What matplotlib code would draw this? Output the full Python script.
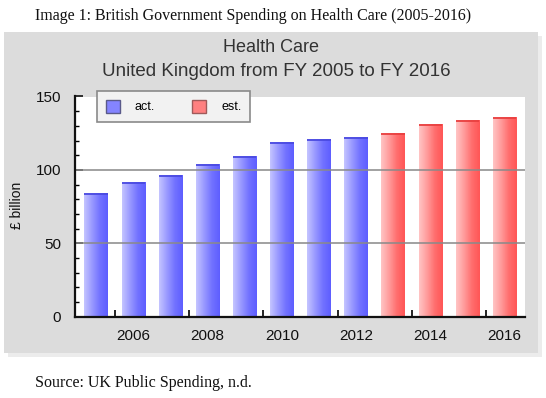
import numpy as np
import matplotlib
matplotlib.use('Agg')
import matplotlib.pyplot as plt
from matplotlib.colors import LinearSegmentedColormap
from matplotlib.patches import Rectangle, Patch
from matplotlib.ticker import MultipleLocator, FixedLocator, NullFormatter

# values (£ billion)
years = [2005, 2006, 2007, 2008, 2009, 2010, 2011, 2012, 2013, 2014, 2015, 2016]
spending = [83.5, 90.7, 95.5, 103.0, 109.0, 118.0, 120.4, 121.8, 124.5, 130.5, 133.3, 135.6]
status = ['act.', 'act.', 'act.', 'act.', 'act.', 'act.', 'act.', 'act.',
          'est.', 'est.', 'est.', 'est.']
label_years = [2006, 2008, 2010, 2012, 2014, 2016]

CAPTION = 'Image 1: British Government Spending on Health Care (2005-2016)'
TITLE1 = 'Health Care'
TITLE2 = 'United Kingdom from FY 2005 to FY 2016'
SOURCE = 'Source: UK Public Spending, n.d.'
W, H = 546, 398
BAR_W = 0.63

cmaps = {
    'act.': LinearSegmentedColormap.from_list('act', ['#c4c4ff', '#9a9aff', '#7272ff', '#5e5eff']),
    'est.': LinearSegmentedColormap.from_list('est', ['#ffc4c4', '#ff9c9c', '#ff6e6e', '#ff5656']),
}
caps = {'act.': '#4a4ae0', 'est.': '#e84040'}
swatch = {'act.': '#8484ff', 'est.': '#ff8080'}


def px(x, y):
    return x / W, 1 - y / H


fig = plt.figure(figsize=(W / 100, H / 100), dpi=100)
fig.patch.set_facecolor('white')

# grey chart panel with a soft shadow
fig.patches.append(Rectangle(px(8, 357), 534 / W, 321 / H, transform=fig.transFigure,
                             facecolor='#ececec', edgecolor='none', zorder=-2))
fig.patches.append(Rectangle(px(4, 353), 534 / W, 321 / H, transform=fig.transFigure,
                             facecolor='#dcdcdc', edgecolor='none', zorder=-1))

ax = fig.add_axes([75 / W, 1 - 316.5 / H, 450 / W, 220 / H])
ax.set_zorder(2)
ax.set_facecolor('white')

grad = np.linspace(0, 1, 64).reshape(1, -1)
for yr, val, st in zip(years, spending, status):
    ax.imshow(grad, extent=[yr - BAR_W / 2, yr + BAR_W / 2, 0, val], aspect='auto',
              cmap=cmaps[st], interpolation='bilinear', zorder=2)
    ax.hlines(val, yr - BAR_W / 2, yr + BAR_W / 2, color=caps[st], lw=1.3, zorder=3)

ax.set_aspect('auto')
ax.set_xlim(2004.43, 2016.55)
ax.set_ylim(0, 150)

for g in (50, 100):
    ax.axhline(g, color='#8a8a8a', lw=1.4, alpha=0.8, zorder=4)

for s in ('top', 'right'):
    ax.spines[s].set_visible(False)
for s in ('left', 'bottom'):
    ax.spines[s].set_linewidth(1.6)
    ax.spines[s].set_color('#111111')
    ax.spines[s].set_zorder(5)

ax.yaxis.set_major_locator(MultipleLocator(50))
ax.yaxis.set_minor_locator(MultipleLocator(10))
ax.tick_params(axis='y', which='major', direction='in', length=6, width=1.2,
               labelsize=11, pad=10, colors='#111111')
ax.tick_params(axis='y', which='minor', direction='in', length=3, width=1)

ax.xaxis.set_major_locator(FixedLocator(label_years))
ax.xaxis.set_minor_locator(FixedLocator([y - 0.5 for y in label_years]))
ax.xaxis.set_minor_formatter(NullFormatter())
ax.tick_params(axis='x', which='major', length=0, labelsize=11, pad=9, colors='#111111')
ax.tick_params(axis='x', which='minor', direction='in', length=5, width=1.2)
for lab in ax.get_xticklabels() + ax.get_yticklabels():
    lab.set_family('Liberation Sans')

handles = [Patch(facecolor=swatch[k], edgecolor='#5a5a8a' if k == 'act.' else '#a05a5a',
                 label=k) for k in ('act.', 'est.')]
leg = ax.legend(handles=handles, ncol=2, loc='upper left', bbox_to_anchor=px(97, 91),
                bbox_transform=fig.transFigure, borderaxespad=0,
                prop={'family': 'Liberation Sans', 'size': 9},
                handlelength=1.1, handleheight=1.2, handletextpad=1.2,
                columnspacing=3.0, borderpad=0.7, fancybox=False, framealpha=1)
leg.get_frame().set_facecolor('#f2f2f2')
leg.get_frame().set_edgecolor('#8a8a8a')
leg.get_frame().set_linewidth(1.2)
leg.set_zorder(10)

fig.text(*px(271, 47), TITLE1, ha='center', va='center', fontsize=13,
         family='Liberation Sans', color='#333333')
fig.text(*px(276, 72), TITLE2, ha='center', va='center', fontsize=13.5,
         family='Liberation Sans', color='#333333')
fig.text(*px(17, 205), '£ billion', ha='center', va='center', rotation=90,
         fontsize=10, family='Liberation Sans', color='#111111')

fig.text(*px(35, 16), CAPTION, ha='left', va='center', fontsize=11.5,
         family='Liberation Serif', color='#111111')
fig.text(*px(35, 383), SOURCE, ha='left', va='center', fontsize=11.5,
         family='Liberation Serif', color='#111111')

fig.savefig('out.png', dpi=100)
